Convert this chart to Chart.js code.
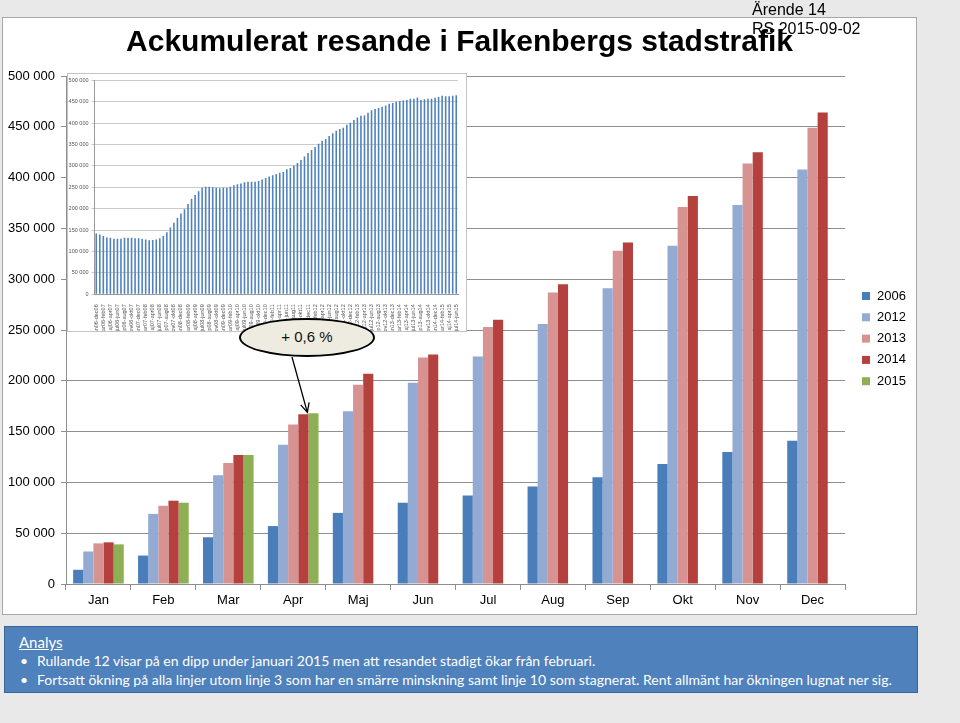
<!DOCTYPE html>
<html>
<head>
<meta charset="utf-8">
<script src="https://cdn.jsdelivr.net/npm/chart.js@4"></script>
<style>
  body { margin: 0; width: 960px; height: 723px; background: #e9e9e9; position: relative; overflow: hidden;
         font-family: "Liberation Sans", Arial, sans-serif; }
  #ram { position: absolute; left: 2px; top: 17px; width: 913px; height: 596px; background: #fff; border: 1px solid #a6a6a6; }
  #huvud { position: absolute; left: 0; top: 0; }
  #insetRam { position: absolute; left: 67px; top: 73px; width: 398px; height: 257px; background: #fff; border: 1px solid #c4c4c4; }
  #inset { position: absolute; left: 0; top: 0; }
  #ellips { position: absolute; left: 239px; top: 318px; width: 136px; height: 39px; box-sizing: border-box;
            border: 2.5px solid #000; border-radius: 50%; background: #eeece1; font-size: 15px;
            text-align: center; line-height: 34px; color: #111; }
  #arende { position: absolute; left: 752px; top: 0; font-size: 16px; line-height: 19px; color: #000; }
  #analys { position: absolute; left: 4px; top: 626px; width: 912px; height: 65px; background: #4f81bd;
            border: 1px solid #3b6496; color: #fff; font-family: Lato, "Open Sans", sans-serif; font-size: 14px; }
  #analys .rubrik { position: absolute; left: 14px; top: 6px; font-size: 15px; text-decoration: underline; }
  #analys .rad { position: absolute; left: 32px; white-space: nowrap; }
  #analys .punkt { position: absolute; left: -17px; }
</style>
</head>
<body>
<div id="ram"><canvas id="huvud" width="913" height="596"></canvas></div>
<div id="insetRam"><canvas id="inset" width="398" height="257"></canvas></div>
<div id="ellips">+ 0,6 %</div>
<div id="arende">Ärende 14<br>RS 2015-09-02</div>
<div id="analys">
  <div class="rubrik">Analys</div>
  <div class="rad" style="top:25px"><span class="punkt">•</span>Rullande 12 visar på en dipp under januari 2015 men att resandet stadigt ökar från februari.</div>
  <div class="rad" style="top:44px"><span class="punkt">•</span>Fortsatt ökning på alla linjer utom linje 3 som har en smärre minskning samt linje 10 som stagnerat. Rent allmänt har ökningen lugnat ner sig.</div>
</div>
<script>
// Ackumulerat resande per månad
const manader = ['Jan', 'Feb', 'Mar', 'Apr', 'Maj', 'Jun', 'Jul', 'Aug', 'Sep', 'Okt', 'Nov', 'Dec'];
const ar2006 = [14000, 28000, 46000, 57000, 70000, 80000, 87000, 96000, 105000, 118000, 130000, 141000];
const ar2012 = [32000, 69000, 107000, 137000, 170000, 198000, 224000, 256000, 291000, 333000, 373000, 408000];
const ar2013 = [40000, 77000, 119000, 157000, 196000, 223000, 253000, 287000, 328000, 371000, 414000, 449000];
const ar2014 = [41000, 82000, 127000, 167000, 207000, 226000, 260000, 295000, 336000, 382000, 425000, 464000];
const ar2015 = [39000, 80000, 127000, 168000];
const arEtiketter = ['2006', '2012', '2013', '2014', '2015'];
const arFarger = ['#4a7ebb', '#93aad3', '#d69391', '#b5413f', '#8cb053'];

// Rullande 12 månader (inset)
const rullandeEtiketter = [
  'jan06-dec06', 'feb06-jan07', 'mar06-feb07', 'apr06-mar07', 'maj06-apr07', 'jun06-maj07', 'jul06-jun07', 'aug06-jul07', 'sep06-aug07', 'okt06-sep07', 'nov06-okt07', 'dec06-nov07',
  'jan07-dec07', 'feb07-jan08', 'mar07-feb08', 'apr07-mar08', 'maj07-apr08', 'jun07-maj08', 'jul07-jun08', 'aug07-jul08', 'sep07-aug08', 'okt07-sep08', 'nov07-okt08', 'dec07-nov08',
  'jan08-dec08', 'feb08-jan09', 'mar08-feb09', 'apr08-mar09', 'maj08-apr09', 'jun08-maj09', 'jul08-jun09', 'aug08-jul09', 'sep08-aug09', 'okt08-sep09', 'nov08-okt09', 'dec08-nov09',
  'jan09-dec09', 'feb09-jan10', 'mar09-feb10', 'apr09-mar10', 'maj09-apr10', 'jun09-maj10', 'jul09-jun10', 'aug09-jul10', 'sep09-aug10', 'okt09-sep10', 'nov09-okt10', 'dec09-nov10',
  'jan10-dec10', 'feb10-jan11', 'mar10-feb11', 'apr10-mar11', 'maj10-apr11', 'jun10-maj11', 'jul10-jun11', 'aug10-jul11', 'sep10-aug11', 'okt10-sep11', 'nov10-okt11', 'dec10-nov11',
  'jan11-dec11', 'feb11-jan12', 'mar11-feb12', 'apr11-mar12', 'maj11-apr12', 'jun11-maj12', 'jul11-jun12', 'aug11-jul12', 'sep11-aug12', 'okt11-sep12', 'nov11-okt12', 'dec11-nov12',
  'jan12-dec12', 'feb12-jan13', 'mar12-feb13', 'apr12-mar13', 'maj12-apr13', 'jun12-maj13', 'jul12-jun13', 'aug12-jul13', 'sep12-aug13', 'okt12-sep13', 'nov12-okt13', 'dec12-nov13',
  'jan13-dec13', 'feb13-jan14', 'mar13-feb14', 'apr13-mar14', 'maj13-apr14', 'jun13-maj14', 'jul13-jun14', 'aug13-jul14', 'sep13-aug14', 'okt13-sep14', 'nov13-okt14', 'dec13-nov14',
  'jan14-dec14', 'feb14-jan15', 'mar14-feb15', 'apr14-mar15', 'maj14-apr15', 'jun14-maj15', 'jul14-jun15'
];
const rullande12 = [
  142000, 140000, 136000, 133000, 132000, 130000, 130000, 130000, 132000, 132000, 132000, 131000,
  131000, 130000, 128000, 126000, 127000, 128000, 131000, 136000, 145000, 156000, 167000, 178000,
  189000, 199000, 211000, 223000, 232000, 241000, 249000, 251000, 251000, 250000, 249000, 248000,
  249000, 249000, 251000, 255000, 257000, 259000, 262000, 263000, 263000, 263000, 265000, 268000,
  272000, 275000, 278000, 281000, 284000, 286000, 292000, 295000, 301000, 307000, 314000, 322000,
  330000, 337000, 344000, 352000, 359000, 363000, 370000, 376000, 382000, 386000, 389000, 396000,
  401000, 407000, 413000, 417000, 418000, 424000, 430000, 433000, 435000, 438000, 441000, 445000,
  447000, 450000, 451000, 453000, 454000, 457000, 457000, 460000, 454000, 456000, 457000, 457000,
  459000, 461000, 464000, 463000, 463000, 464000, 465000
];

Chart.defaults.font.family = '"Liberation Sans", Arial, sans-serif';
Chart.defaults.animation = false;

const tusental = v => String(v).replace(/\B(?=(\d{3})+(?!\d))/g, ' ');

// Legend till höger, ritad för hand
const sidoLegend = {
  id: 'sidoLegend',
  afterDraw(chart) {
    const ctx = chart.ctx;
    ctx.save();
    ctx.font = '13px "Liberation Sans", Arial, sans-serif';
    ctx.textBaseline = 'middle';
    chart.data.datasets.forEach((ds, i) => {
      const y = 278 + i * 21.3;
      ctx.fillStyle = ds.backgroundColor;
      ctx.fillRect(859, y - 4, 8, 8);
      ctx.fillStyle = '#000';
      ctx.fillText(ds.label, 874, y);
    });
    ctx.restore();
  }
};

// Pil från "+ 0,6 %" ner mot april 2014
const pil = {
  id: 'pil',
  afterDatasetsDraw(chart) {
    const stapel = chart.getDatasetMeta(3).data[3];
    const x2 = stapel.x + 4, y2 = stapel.y - 2;
    const x1 = 289, y1 = 339;
    const vinkel = Math.atan2(y2 - y1, x2 - x1);
    const ctx = chart.ctx;
    ctx.save();
    ctx.strokeStyle = '#000';
    ctx.lineWidth = 1.3;
    ctx.beginPath();
    ctx.moveTo(x1, y1);
    ctx.lineTo(x2, y2);
    ctx.moveTo(x2 - 10 * Math.cos(vinkel - 0.45), y2 - 10 * Math.sin(vinkel - 0.45));
    ctx.lineTo(x2, y2);
    ctx.lineTo(x2 - 10 * Math.cos(vinkel + 0.45), y2 - 10 * Math.sin(vinkel + 0.45));
    ctx.stroke();
    ctx.restore();
  }
};

const serier = [ar2006, ar2012, ar2013, ar2014, ar2015];

new Chart(document.getElementById('huvud'), {
  type: 'bar',
  data: {
    labels: manader,
    datasets: serier.map((d, i) => ({
      label: arEtiketter[i],
      data: d,
      backgroundColor: arFarger[i],
      categoryPercentage: 0.78,
      barPercentage: 1.0
    }))
  },
  plugins: [sidoLegend, pil],
  options: {
    responsive: false,
    plugins: {
      legend: { display: false },
      tooltip: { enabled: false },
      title: {
        display: true,
        text: 'Ackumulerat resande i Falkenbergs stadstrafik',
        font: { size: 30, weight: 'bold' },
        color: '#000',
        padding: { top: 7, bottom: 15 }
      }
    },
    scales: {
      x: {
        grid: { display: true, drawOnChartArea: false, tickLength: 6, color: '#8e8e8e' },
        border: { color: '#8e8e8e' },
        ticks: { font: { size: 13 }, color: '#000', padding: 3 },
        afterFit(s) { s.height = 30; }
      },
      y: {
        min: 0,
        max: 500000,
        ticks: { stepSize: 50000, font: { size: 13 }, color: '#000', padding: 6, callback: v => tusental(v) },
        grid: { color: '#8e8e8e', tickLength: 5 },
        border: { color: '#8e8e8e' },
        afterFit(s) { s.width = 63; }
      },
      // tom axel till höger som ger plats åt legenden
      yHoger: {
        position: 'right',
        min: 0,
        max: 500000,
        grid: { display: false },
        border: { display: false },
        ticks: { display: false },
        afterFit(s) { s.width = 71; }
      }
    }
  }
});

new Chart(document.getElementById('inset'), {
  type: 'bar',
  data: {
    labels: rullandeEtiketter,
    datasets: [{
      label: 'Rullande 12',
      data: rullande12,
      backgroundColor: '#4f81bd',
      categoryPercentage: 1.0,
      barPercentage: 0.45
    }]
  },
  options: {
    responsive: false,
    layout: { padding: { top: 4, right: 8 } },
    plugins: { legend: { display: false }, tooltip: { enabled: false } },
    scales: {
      x: {
        grid: { display: false },
        border: { color: '#9a9a9a' },
        ticks: {
          autoSkip: false, minRotation: 90, maxRotation: 90, padding: 2,
          font: { size: 5.5 }, color: '#555',
          callback(v, i) { return i % 2 === 0 ? this.getLabelForValue(v) : ''; }
        },
        afterFit(s) { s.height = 36.7; }
      },
      y: {
        min: 0,
        max: 500000,
        ticks: { stepSize: 50000, font: { size: 5.5 }, color: '#555', padding: 3, callback: v => tusental(v) },
        grid: { color: '#cbcbcb', tickLength: 3 },
        border: { color: '#9a9a9a' },
        afterFit(s) { s.width = 26.5; }
      }
    }
  }
});
</script>
</body>
</html>
